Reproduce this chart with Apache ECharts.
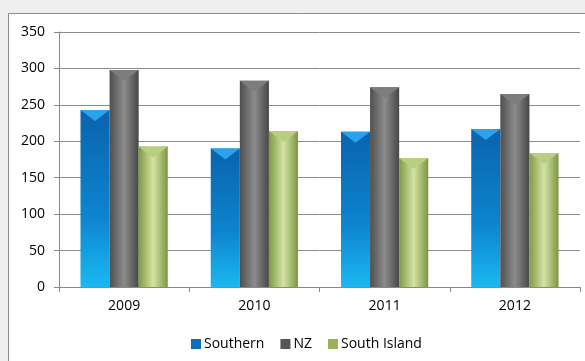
<!DOCTYPE html>
<html>
<head>
<meta charset="utf-8">
<script src="https://cdn.jsdelivr.net/npm/echarts@6/dist/echarts.min.js"></script>
<style>
  html, body { margin: 0; padding: 0; background: #efefef; }
  #chart { width: 585px; height: 361px; }
</style>
</head>
<body>
<div id="chart"></div>
<script>
const years = ['2009', '2010', '2011', '2012']
const southern = [243, 190, 213, 217]
const nz = [298, 283, 274, 265]
const southIsland = [193, 214, 177, 184]
const yTicks = [0, 50, 100, 150, 200, 250, 300, 350]

const G = echarts.graphic.LinearGradient
const blueFill = new G(0, 0, 0, 1, [
  { offset: 0, color: '#0a63ad' },
  { offset: 0.6, color: '#0d84cf' },
  { offset: 1, color: '#1ab8f2' },
])
const grayFill = new G(0, 0, 1, 0, [
  { offset: 0, color: '#4f4f4f' },
  { offset: 0.5, color: '#8c8c8c' },
  { offset: 1, color: '#474747' },
])
const greenFill = new G(0, 0, 1, 0, [
  { offset: 0, color: '#7f9a45' },
  { offset: 0.5, color: '#d3e3a3' },
  { offset: 1, color: '#7c9643' },
])

const font = '"Open Sans", "Noto Sans", sans-serif'

function bar(name, data, fill) {
  return {
    name,
    type: 'bar',
    data,
    barGap: '0%',
    barCategoryGap: '33%',
    itemStyle: { color: fill },
  }
}

// 柱顶的倒三角高光
function cap(name, data, color) {
  return {
    name: name + '-cap',
    type: 'pictorialBar',
    data,
    barGap: '0%',
    barCategoryGap: '33%',
    symbol: 'path://M0,0 L2,0 L1,1 Z',
    symbolPosition: 'end',
    symbolSize: ['100%', 11],
    symbolOffset: [0, 0],
    itemStyle: { color },
    z: 3,
    silent: true,
  }
}

const chart = echarts.init(document.getElementById('chart'))
chart.setOption({
  animation: false,
  backgroundColor: '#efefef',
  graphic: [{
    type: 'rect',
    z: -10,
    shape: { x: 8.5, y: 13.5, width: 600, height: 400 },
    style: { fill: '#ffffff', stroke: '#8c8c8c', lineWidth: 1 },
  }],
  grid: { left: 59, right: 5, top: 32, bottom: 74 },
  legend: {
    bottom: 5,
    left: 186,
    itemWidth: 10,
    itemHeight: 10,
    itemGap: 16,
    icon: 'rect',
    textStyle: { fontFamily: font, fontSize: 14, color: '#000', padding: [0, 0, 0, -2] },
    data: [
      { name: 'Southern', itemStyle: { color: '#0b6fbd' } },
      { name: 'NZ', itemStyle: { color: '#555555' } },
      { name: 'South Island', itemStyle: { color: '#9ab35a' } },
    ],
  },
  xAxis: {
    type: 'category',
    data: years,
    axisLine: { lineStyle: { color: '#888' } },
    axisTick: { show: true, length: 5, lineStyle: { color: '#888' } },
    axisLabel: { fontFamily: font, fontSize: 14, color: '#000', margin: 12 },
  },
  yAxis: {
    type: 'value',
    min: yTicks[0],
    max: yTicks[yTicks.length - 1],
    interval: 50,
    axisLine: { show: true, lineStyle: { color: '#888' } },
    axisTick: { show: true, length: 5, lineStyle: { color: '#888' } },
    splitLine: { lineStyle: { color: '#8c8c8c' } },
    axisLabel: { fontFamily: font, fontSize: 14, color: '#000', margin: 14 },
  },
  series: [
    bar('Southern', southern, blueFill),
    bar('NZ', nz, grayFill),
    bar('South Island', southIsland, greenFill),
    cap('Southern', southern, '#2aa3ec'),
    cap('NZ', nz, '#7d7d7d'),
    cap('South Island', southIsland, '#b9cf80'),
  ],
})
</script>
</body>
</html>
